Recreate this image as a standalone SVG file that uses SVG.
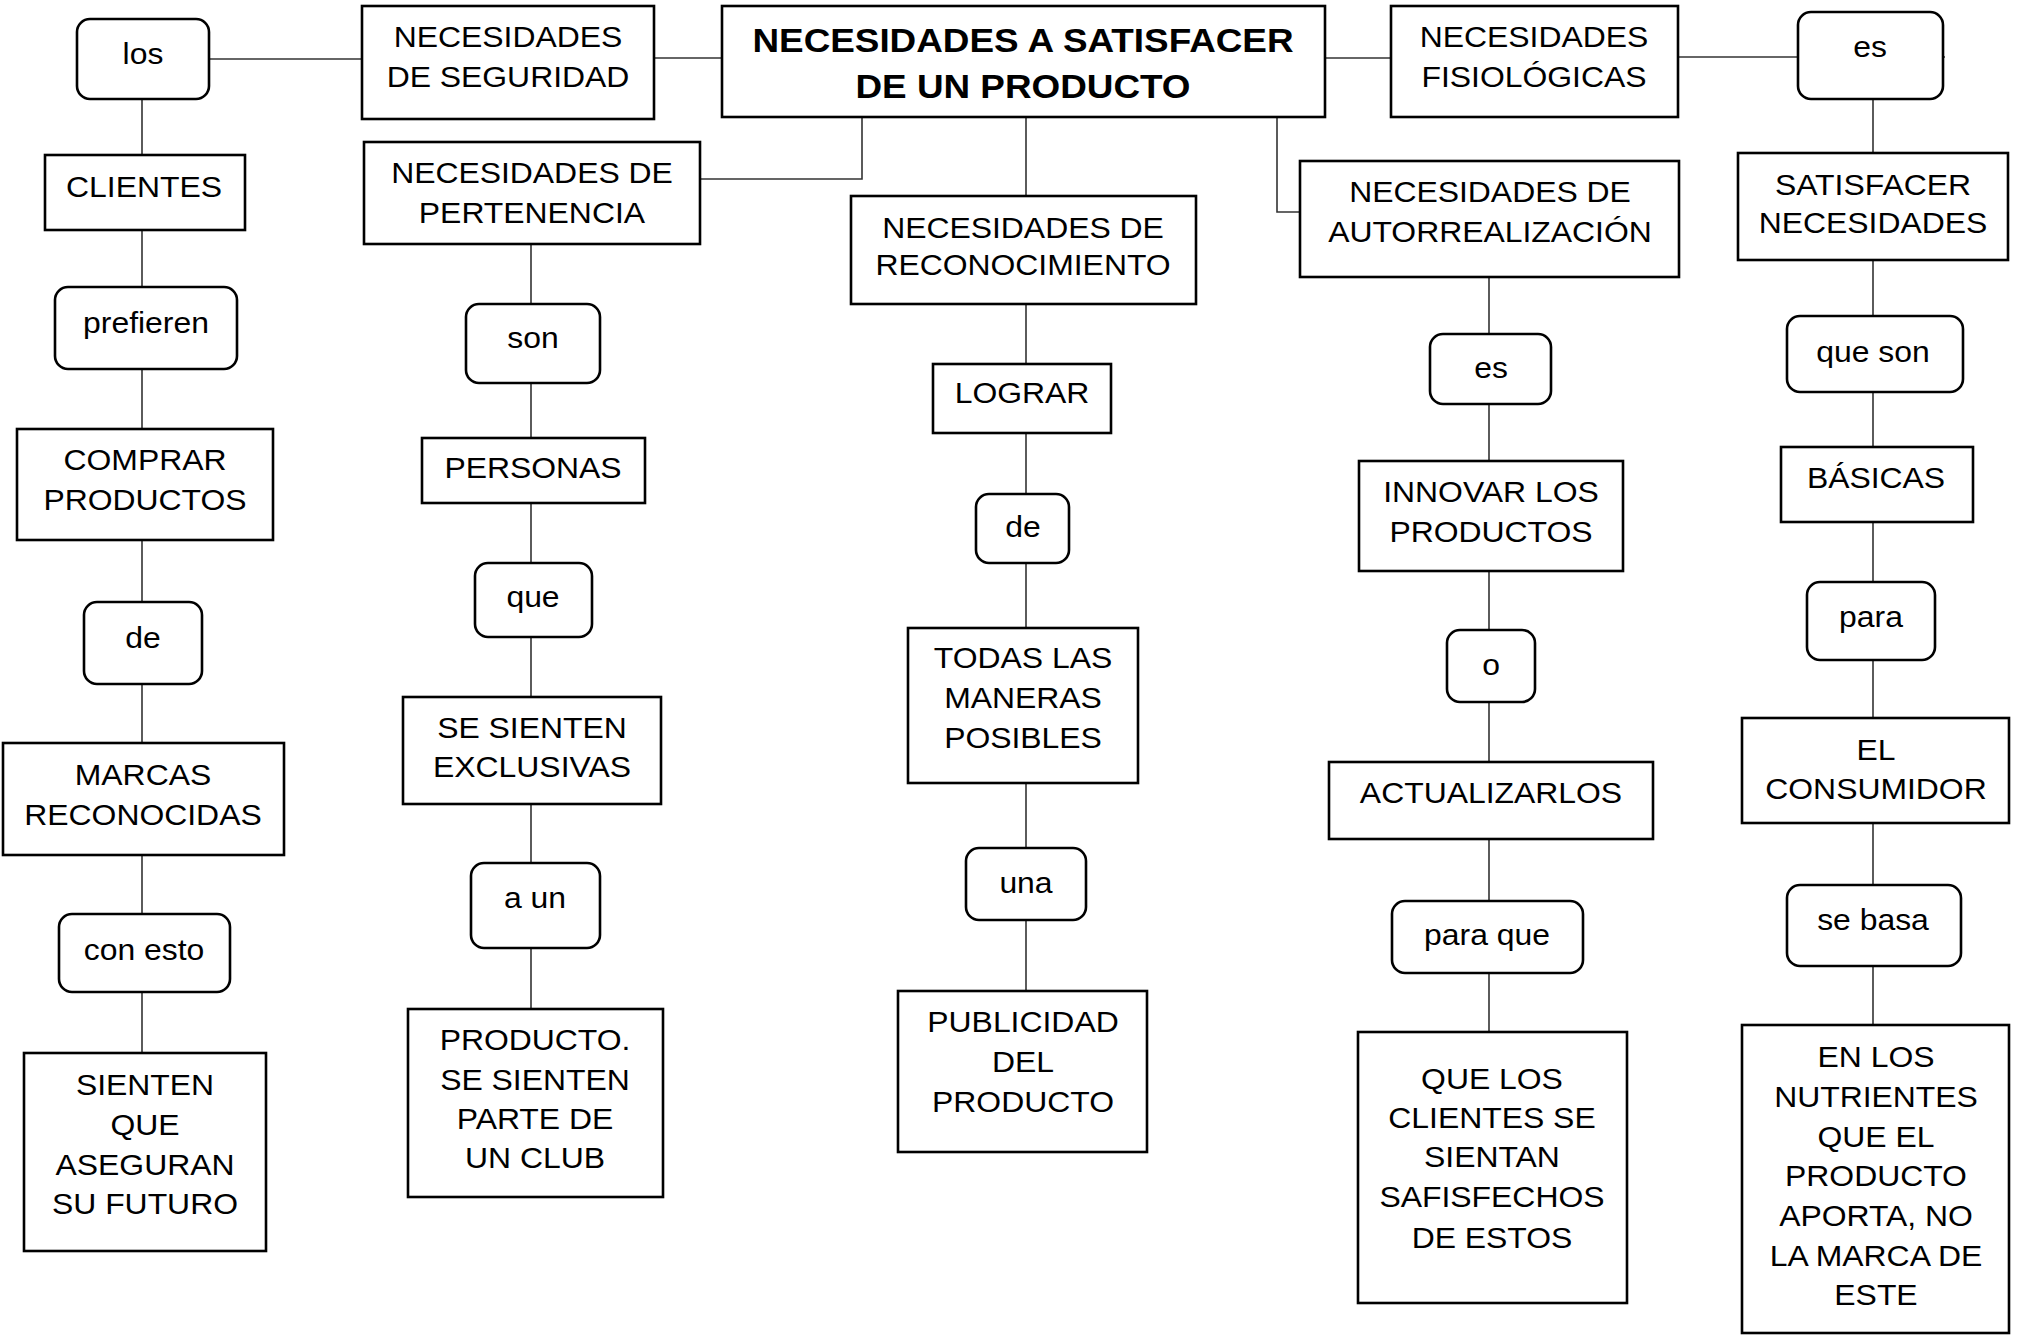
<svg xmlns="http://www.w3.org/2000/svg" width="2028" height="1340" viewBox="0 0 2028 1340">
<style>
.bx{fill:#fff;stroke:#000;stroke-width:2.6}
.rd{fill:#fff;stroke:#000;stroke-width:2.6}
.cn{fill:none;stroke:#333;stroke-width:1.6}
text{font-family:"Liberation Sans",Arial,sans-serif;font-size:29px;fill:#000;text-anchor:middle;transform-box:fill-box;transform-origin:center;transform:scaleX(1.1)}
.title{font-weight:bold;font-size:33.5px}
</style>
<rect width="2028" height="1340" fill="#fff"/>
<g id="connectors">
<line class="cn" x1="209" y1="59" x2="362" y2="59"/>
<line class="cn" x1="654" y1="58" x2="722" y2="58"/>
<line class="cn" x1="1325" y1="58" x2="1391" y2="58"/>
<line class="cn" x1="1678" y1="57" x2="1945" y2="57"/>
<line class="cn" x1="142" y1="99" x2="142" y2="155"/>
<line class="cn" x1="142" y1="230" x2="142" y2="287"/>
<line class="cn" x1="142" y1="369" x2="142" y2="429"/>
<line class="cn" x1="142" y1="540" x2="142" y2="602"/>
<line class="cn" x1="142" y1="684" x2="142" y2="743"/>
<line class="cn" x1="142" y1="855" x2="142" y2="914"/>
<line class="cn" x1="142" y1="992" x2="142" y2="1053"/>
<polyline class="cn" points="862,117 862,179 700,179"/>
<line class="cn" x1="531" y1="244" x2="531" y2="304"/>
<line class="cn" x1="531" y1="383" x2="531" y2="438"/>
<line class="cn" x1="531" y1="503" x2="531" y2="563"/>
<line class="cn" x1="531" y1="637" x2="531" y2="697"/>
<line class="cn" x1="531" y1="804" x2="531" y2="863"/>
<line class="cn" x1="531" y1="948" x2="531" y2="1009"/>
<line class="cn" x1="1026" y1="117" x2="1026" y2="196"/>
<line class="cn" x1="1026" y1="304" x2="1026" y2="364"/>
<line class="cn" x1="1026" y1="433" x2="1026" y2="494"/>
<line class="cn" x1="1026" y1="563" x2="1026" y2="628"/>
<line class="cn" x1="1026" y1="783" x2="1026" y2="848"/>
<line class="cn" x1="1026" y1="920" x2="1026" y2="991"/>
<polyline class="cn" points="1277,117 1277,212 1300,212"/>
<line class="cn" x1="1489" y1="277" x2="1489" y2="334"/>
<line class="cn" x1="1489" y1="404" x2="1489" y2="461"/>
<line class="cn" x1="1489" y1="571" x2="1489" y2="630"/>
<line class="cn" x1="1489" y1="702" x2="1489" y2="762"/>
<line class="cn" x1="1489" y1="839" x2="1489" y2="901"/>
<line class="cn" x1="1489" y1="973" x2="1489" y2="1032"/>
<line class="cn" x1="1873" y1="99" x2="1873" y2="153"/>
<line class="cn" x1="1873" y1="260" x2="1873" y2="316"/>
<line class="cn" x1="1873" y1="392" x2="1873" y2="447"/>
<line class="cn" x1="1873" y1="522" x2="1873" y2="582"/>
<line class="cn" x1="1873" y1="660" x2="1873" y2="718"/>
<line class="cn" x1="1873" y1="823" x2="1873" y2="885"/>
<line class="cn" x1="1873" y1="966" x2="1873" y2="1025"/>
</g>
<g id="main"><rect class="bx" x="722" y="6" width="603" height="111"/><text class="title" x="1023" y="52">NECESIDADES A SATISFACER</text><text class="title" x="1023" y="98">DE UN PRODUCTO</text></g>
<g id="seguridad"><rect class="bx" x="362" y="6" width="292" height="113"/><text x="508" y="47">NECESIDADES</text><text x="508" y="87">DE SEGURIDAD</text></g>
<g id="los"><rect class="rd" x="77" y="19" width="132" height="80" rx="13"/><text x="143" y="64">los</text></g>
<g id="clientes"><rect class="bx" x="45" y="155" width="200" height="75"/><text x="144" y="197">CLIENTES</text></g>
<g id="prefieren"><rect class="rd" x="55" y="287" width="182" height="82" rx="13"/><text x="146" y="333">prefieren</text></g>
<g id="comprar"><rect class="bx" x="17" y="429" width="256" height="111"/><text x="145" y="470">COMPRAR</text><text x="145" y="510">PRODUCTOS</text></g>
<g id="de1"><rect class="rd" x="84" y="602" width="118" height="82" rx="13"/><text x="143" y="648">de</text></g>
<g id="marcas"><rect class="bx" x="3" y="743" width="281" height="112"/><text x="143" y="785">MARCAS</text><text x="143" y="825">RECONOCIDAS</text></g>
<g id="conesto"><rect class="rd" x="59" y="914" width="171" height="78" rx="13"/><text x="144" y="960">con esto</text></g>
<g id="sienten"><rect class="bx" x="24" y="1053" width="242" height="198"/><text x="145" y="1095">SIENTEN</text><text x="145" y="1135">QUE</text><text x="145" y="1175">ASEGURAN</text><text x="145" y="1214">SU FUTURO</text></g>
<g id="pertenencia"><rect class="bx" x="364" y="142" width="336" height="102"/><text x="532" y="183">NECESIDADES DE</text><text x="532" y="223">PERTENENCIA</text></g>
<g id="son"><rect class="rd" x="466" y="304" width="134" height="79" rx="13"/><text x="533" y="348">son</text></g>
<g id="personas"><rect class="bx" x="422" y="438" width="223" height="65"/><text x="533" y="478">PERSONAS</text></g>
<g id="que"><rect class="rd" x="475" y="563" width="117" height="74" rx="13"/><text x="533" y="607">que</text></g>
<g id="exclusivas"><rect class="bx" x="403" y="697" width="258" height="107"/><text x="532" y="738">SE SIENTEN</text><text x="532" y="777">EXCLUSIVAS</text></g>
<g id="aun"><rect class="rd" x="471" y="863" width="129" height="85" rx="13"/><text x="535" y="908">a un</text></g>
<g id="club"><rect class="bx" x="408" y="1009" width="255" height="188"/><text x="535" y="1050">PRODUCTO.</text><text x="535" y="1090">SE SIENTEN</text><text x="535" y="1129">PARTE DE</text><text x="535" y="1168">UN CLUB</text></g>
<g id="reconocimiento"><rect class="bx" x="851" y="196" width="345" height="108"/><text x="1023" y="238">NECESIDADES DE</text><text x="1023" y="275">RECONOCIMIENTO</text></g>
<g id="lograr"><rect class="bx" x="933" y="364" width="178" height="69"/><text x="1022" y="403">LOGRAR</text></g>
<g id="de2"><rect class="rd" x="976" y="494" width="93" height="69" rx="13"/><text x="1023" y="537">de</text></g>
<g id="todas"><rect class="bx" x="908" y="628" width="230" height="155"/><text x="1023" y="668">TODAS LAS</text><text x="1023" y="708">MANERAS</text><text x="1023" y="748">POSIBLES</text></g>
<g id="una"><rect class="rd" x="966" y="848" width="120" height="72" rx="13"/><text x="1026" y="893">una</text></g>
<g id="publicidad"><rect class="bx" x="898" y="991" width="249" height="161"/><text x="1023" y="1032">PUBLICIDAD</text><text x="1023" y="1072">DEL</text><text x="1023" y="1112">PRODUCTO</text></g>
<g id="autorrealizacion"><rect class="bx" x="1300" y="161" width="379" height="116"/><text x="1490" y="202">NECESIDADES DE</text><text x="1490" y="242">AUTORREALIZACIÓN</text></g>
<g id="es1"><rect class="rd" x="1430" y="334" width="121" height="70" rx="13"/><text x="1491" y="378">es</text></g>
<g id="innovar"><rect class="bx" x="1359" y="461" width="264" height="110"/><text x="1491" y="502">INNOVAR LOS</text><text x="1491" y="542">PRODUCTOS</text></g>
<g id="o"><rect class="rd" x="1447" y="630" width="88" height="72" rx="13"/><text x="1491" y="675">o</text></g>
<g id="actualizarlos"><rect class="bx" x="1329" y="762" width="324" height="77"/><text x="1491" y="803">ACTUALIZARLOS</text></g>
<g id="paraque"><rect class="rd" x="1392" y="901" width="191" height="72" rx="13"/><text x="1487" y="945">para que</text></g>
<g id="satisfechos"><rect class="bx" x="1358" y="1032" width="269" height="271"/><text x="1492" y="1089">QUE LOS</text><text x="1492" y="1128">CLIENTES SE</text><text x="1492" y="1167">SIENTAN</text><text x="1492" y="1207">SAFISFECHOS</text><text x="1492" y="1248">DE ESTOS</text></g>
<g id="fisiologicas"><rect class="bx" x="1391" y="6" width="287" height="111"/><text x="1534" y="47">NECESIDADES</text><text x="1534" y="87">FISIOLÓGICAS</text></g>
<g id="es2"><rect class="rd" x="1798" y="12" width="145" height="87" rx="13"/><text x="1870" y="57">es</text></g>
<g id="satisfacer"><rect class="bx" x="1738" y="153" width="270" height="107"/><text x="1873" y="195">SATISFACER</text><text x="1873" y="233">NECESIDADES</text></g>
<g id="queson"><rect class="rd" x="1787" y="316" width="176" height="76" rx="13"/><text x="1873" y="362">que son</text></g>
<g id="basicas"><rect class="bx" x="1781" y="447" width="192" height="75"/><text x="1876" y="488">BÁSICAS</text></g>
<g id="para"><rect class="rd" x="1807" y="582" width="128" height="78" rx="13"/><text x="1871" y="627">para</text></g>
<g id="consumidor"><rect class="bx" x="1742" y="718" width="267" height="105"/><text x="1876" y="760">EL</text><text x="1876" y="799">CONSUMIDOR</text></g>
<g id="sebasa"><rect class="rd" x="1787" y="885" width="174" height="81" rx="13"/><text x="1873" y="930">se basa</text></g>
<g id="nutrientes"><rect class="bx" x="1742" y="1025" width="267" height="308"/><text x="1876" y="1067">EN LOS</text><text x="1876" y="1107">NUTRIENTES</text><text x="1876" y="1147">QUE EL</text><text x="1876" y="1186">PRODUCTO</text><text x="1876" y="1226">APORTA, NO</text><text x="1876" y="1266">LA MARCA DE</text><text x="1876" y="1305">ESTE</text></g>
</svg>
